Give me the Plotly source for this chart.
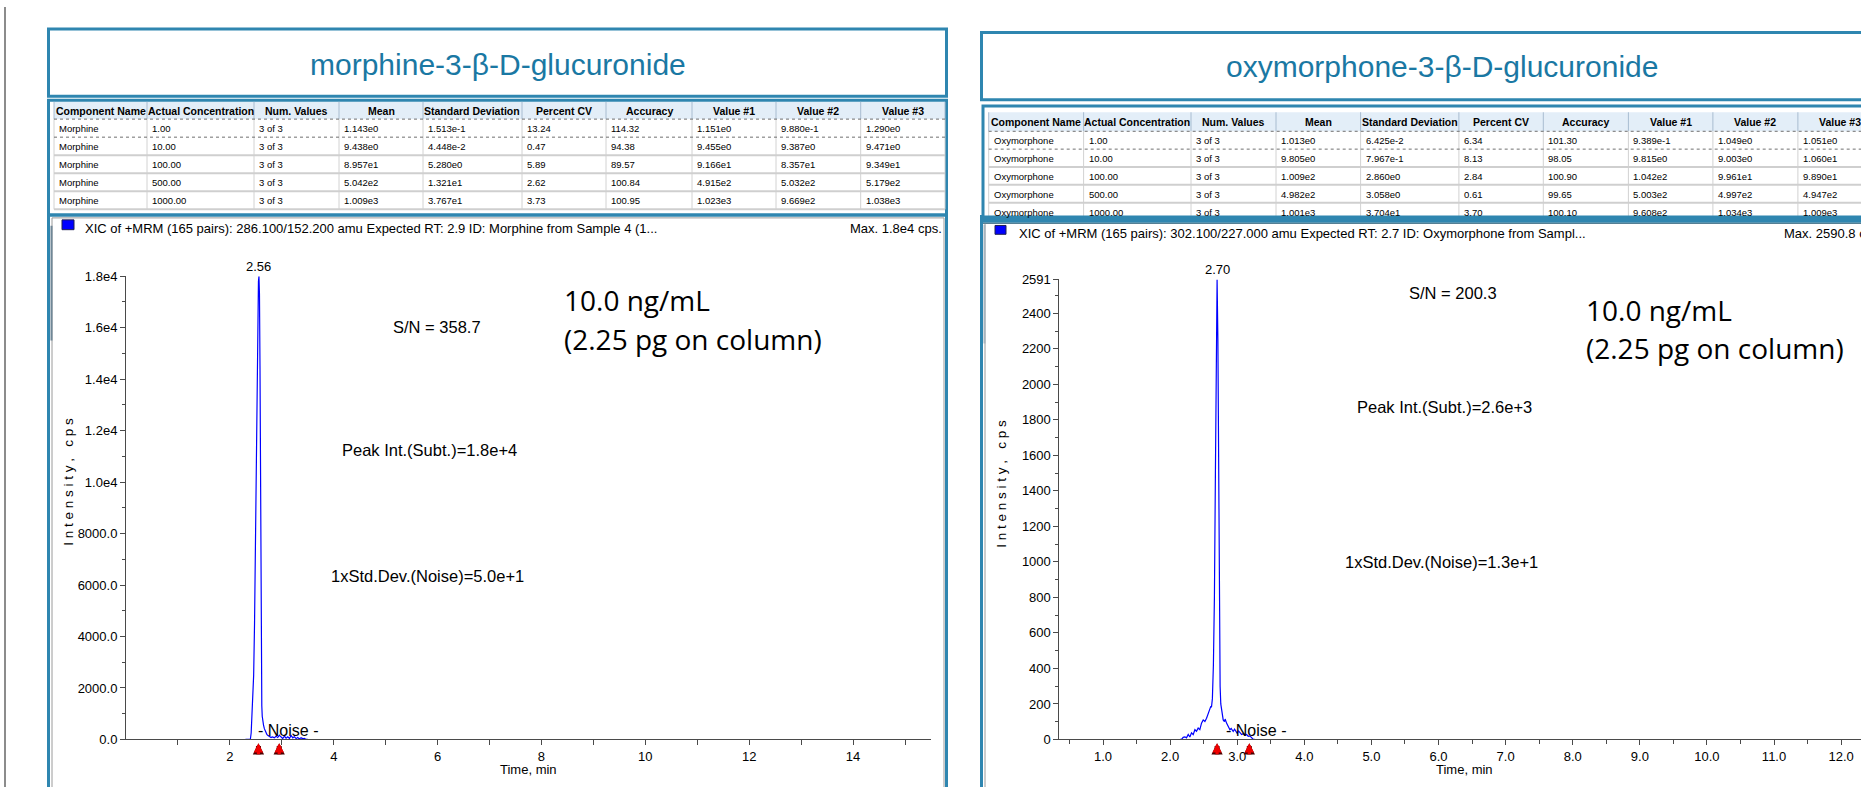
import plotly.graph_objects as go

# ---------------- data ----------------
table_headers = ["Component Name", "Actual Concentration", "Num. Values", "Mean",
                 "Standard Deviation", "Percent CV", "Accuracy", "Value #1", "Value #2", "Value #3"]

morphine_title = "morphine-3-β-D-glucuronide"
morphine_component = ["Morphine"] * 5
morphine_actual_conc = ["1.00", "10.00", "100.00", "500.00", "1000.00"]
morphine_num_values = ["3 of 3"] * 5
morphine_mean = ["1.143e0", "9.438e0", "8.957e1", "5.042e2", "1.009e3"]
morphine_sd = ["1.513e-1", "4.448e-2", "5.280e0", "1.321e1", "3.767e1"]
morphine_cv = ["13.24", "0.47", "5.89", "2.62", "3.73"]
morphine_accuracy = ["114.32", "94.38", "89.57", "100.84", "100.95"]
morphine_value1 = ["1.151e0", "9.455e0", "9.166e1", "4.915e2", "1.023e3"]
morphine_value2 = ["9.880e-1", "9.387e0", "8.357e1", "5.032e2", "9.669e2"]
morphine_value3 = ["1.290e0", "9.471e0", "9.349e1", "5.179e2", "1.038e3"]

oxy_title = "oxymorphone-3-β-D-glucuronide"
oxy_component = ["Oxymorphone"] * 5
oxy_actual_conc = ["1.00", "10.00", "100.00", "500.00", "1000.00"]
oxy_num_values = ["3 of 3"] * 5
oxy_mean = ["1.013e0", "9.805e0", "1.009e2", "4.982e2", "1.001e3"]
oxy_sd = ["6.425e-2", "7.967e-1", "2.860e0", "3.058e0", "3.704e1"]
oxy_cv = ["6.34", "8.13", "2.84", "0.61", "3.70"]
oxy_accuracy = ["101.30", "98.05", "100.90", "99.65", "100.10"]
oxy_value1 = ["9.389e-1", "9.815e0", "1.042e2", "5.003e2", "9.608e2"]
oxy_value2 = ["1.049e0", "9.003e0", "9.961e1", "4.997e2", "1.034e3"]
oxy_value3 = ["1.051e0", "1.060e1", "9.890e1", "4.947e2", "1.009e3"]

# chromatogram: morphine XIC 286.1/152.2
morphine_time = [2.30, 2.394, 2.41, 2.425, 2.44, 2.458, 2.475, 2.49, 2.505, 2.52, 2.535, 2.55,
                 2.56, 2.57, 2.58, 2.59, 2.598, 2.606, 2.615, 2.623, 2.632, 2.648, 2.664, 2.68,
                 2.696, 2.712, 2.728, 2.745, 2.761, 2.777, 2.793, 2.809, 2.825, 2.841, 2.857,
                 2.873, 2.889, 2.905, 2.921, 2.937, 2.954, 2.970, 2.986, 3.002, 3.018, 3.034,
                 3.050, 3.066, 3.082, 3.098, 3.115, 3.131, 3.147, 3.163, 3.179, 3.195, 3.211,
                 3.227, 3.243, 3.259, 3.275, 3.291, 3.307, 3.323, 3.340, 3.356, 3.372, 3.388,
                 3.404, 3.420, 3.436, 3.452, 3.468, 3.50]
morphine_intensity = [0, 0, 250, 800, 1500, 2500, 4500, 7500, 11000, 14200, 16600, 17800,
                      18000, 17300, 14500, 9800, 5500, 2500, 1300, 900, 737, 560, 420, 320,
                      254, 200, 165, 140, 127, 95, 76, 90, 102, 80, 64,
                      95, 127, 100, 76, 120, 165, 130, 102, 70, 38, 85,
                      127, 90, 51, 75, 102, 70, 38, 95, 153, 110, 64,
                      85, 102, 70, 38, 55, 76, 50, 25, 45, 64, 40,
                      25, 30, 38, 20, 0, 0]

# chromatogram: oxymorphone XIC 302.1/227.0
oxy_time = [2.15, 2.17, 2.195, 2.22, 2.244, 2.27, 2.294, 2.319, 2.344, 2.369, 2.393, 2.418,
            2.443, 2.468, 2.493, 2.518, 2.543, 2.567, 2.592, 2.605, 2.617, 2.63, 2.645, 2.66,
            2.675, 2.688, 2.70, 2.712, 2.724, 2.735, 2.745, 2.755, 2.766, 2.78, 2.791, 2.81,
            2.82, 2.841, 2.86, 2.87, 2.891, 2.91, 2.94, 2.96, 2.98, 3.0, 3.02, 3.04, 3.065,
            3.09, 3.115, 3.14, 3.164, 3.19, 3.214, 3.239, 3.26]
oxy_intensity = [0, 0, 12, 15, 9, 28, 14, 37, 27, 55, 46, 64,
                 55, 92, 110, 101, 120, 147, 178, 185, 184, 230, 420, 800,
                 1500, 2200, 2591, 2250, 1400, 650, 300, 200, 170, 125, 110, 100,
                 115, 92, 80, 70, 55, 62, 45, 58, 42, 35, 48, 38, 28,
                 33, 25, 28, 18, 20, 9, 0, 0]

morphine_peak_rt = [2.56]
morphine_peak_max = [18000]
oxy_peak_rt = [2.70]
oxy_peak_max = [2591]
morphine_arrow_times = [2.55, 2.95]
oxy_arrow_times = [2.70, 3.18]
morphine_threshold = [905]
oxy_threshold = [125]

morphine_x_ticks = list(range(1, 16))
morphine_x_labels = ["" if t % 2 else str(t) for t in morphine_x_ticks]
morphine_y_ticks = [0, 2000, 4000, 6000, 8000, 10000, 12000, 14000, 16000, 18000]
morphine_y_labels = ["0.0", "2000.0", "4000.0", "6000.0", "8000.0", "1.0e4", "1.2e4", "1.4e4", "1.6e4", "1.8e4"]
oxy_x_ticks = list(range(1, 13))
oxy_x_labels = [f"{t}.0" for t in oxy_x_ticks]
oxy_y_ticks = [0, 200, 400, 600, 800, 1000, 1200, 1400, 1600, 1800, 2000, 2200, 2400, 2591]
oxy_y_labels = [str(v) for v in oxy_y_ticks]

# ---------------- layout helpers ----------------
W, H = 1861, 787
FONT = "Liberation Sans, Arial, sans-serif"
BIG = "Open Sans, Noto Sans, sans-serif"
TEAL = "#2F86B0"
TITLE_C = "#1A78A3"


def fx(x):
    return x / W


def fy(y):
    return 1 - y / H


shapes = []
annots = []


def line(x0, y0, x1, y1, color, width=1, dash=None, layer="above"):
    d = dict(type="line", xref="paper", yref="paper", x0=fx(x0), y0=fy(y0), x1=fx(x1), y1=fy(y1),
             line=dict(color=color, width=width), layer=layer)
    if dash:
        d["line"]["dash"] = dash
    shapes.append(d)


def box(x0, y0, x1, y1, color=None, width=0, fill=None, layer="above"):
    d = dict(type="rect", xref="paper", yref="paper", x0=fx(x0), y0=fy(y0), x1=fx(x1), y1=fy(y1),
             layer=layer, line=dict(width=width, color=color if color else "rgba(0,0,0,0)"))
    d["fillcolor"] = fill if fill else "rgba(0,0,0,0)"
    shapes.append(d)


def txt(x, y, s, size, color="#000", anchor="center", family=FONT, angle=0):
    annots.append(dict(xref="paper", yref="paper", x=fx(x), y=fy(y), text=s, showarrow=False,
                       xanchor=anchor, yanchor="middle", textangle=angle,
                       font=dict(size=size, color=color, family=family)))


def draw_table(cols, head_top, head_bot, row_h, columns, ext):
    x_start, x_end = cols[0], cols[-1] + ext
    box(x_start, head_top, x_end, head_bot, fill="#E3EEF8", layer="below")
    for i, name in enumerate(table_headers):
        if i + 1 < len(cols):
            txt((cols[i] + cols[i + 1]) / 2, (head_top + head_bot) / 2 + 0.5, "<b>" + name + "</b>", 10.5)
    for c in cols:
        line(c, head_top, c, head_bot, "#A8BCD0", 1)
        line(c, head_bot, c, head_bot + 5 * row_h, "#D2D2D2", 1)
    line(x_start, head_bot, x_end, head_bot, "#707070", 1, "dot")
    for r in range(5):
        top = head_bot + r * row_h
        bot = top + row_h
        if r == 0:
            line(x_start, bot, x_end, bot, "#707070", 1, "dot")
        else:
            line(x_start, bot, x_end, bot, "#CFCFCF", 2)
        for i, col in enumerate(columns):
            txt(cols[i] + 3, top + row_h / 2 + 0.5, col[r], 9.5, anchor="left")


# ---------------- left panel (morphine) ----------------
line(5, 0, 5, 800, "#8C8C8C", 2)
box(48.5, 22.5, 946.5, 91, TEAL, 3)
txt(498, 59, morphine_title, 30, TITLE_C)
box(48.5, 95, 946.5, 212, TEAL, 3)
left_cols = [54, 147, 254, 339, 423, 522, 606, 692, 776, 860.7, 945]
draw_table(left_cols, 96.7, 114.3, 18.4,
           [morphine_component, morphine_actual_conc, morphine_num_values, morphine_mean, morphine_sd,
            morphine_cv, morphine_accuracy, morphine_value1, morphine_value2, morphine_value3], 0)
box(48.5, 212, 946.5, 800, TEAL, 3)
box(52, 215, 944, 800, "#9A9A9A", 1)
line(51.5, 223, 51.5, 340, "#6F8797", 2)
box(62, 217, 74, 227, "#202050", 1, fill="#0000FF")
txt(83, 226, "XIC of +MRM (165 pairs): 286.100/152.200 amu Expected RT: 2.9 ID: Morphine from Sample 4 (1...", 13, anchor="left")
txt(943.5, 226, "Max. 1.8e4 cps.", 13, anchor="right")
txt(69, 484, "\u00a0".join("Intensity,") + "\u00a0\u00a0\u00a0" + "\u00a0".join("cps"), 13.5, angle=-90)
txt(528, 777.7, "Time, min", 13)
txt(436.6, 326.7, "S/N = 358.7", 16.5)
txt(562, 299, "10.0 ng/mL", 28, anchor="left", family=BIG)
txt(562, 338, "(2.25 pg on column)", 28, anchor="left", family=BIG)
txt(429, 451.7, "Peak Int.(Subt.)=1.8e+4", 16.5)
txt(427, 580, "1xStd.Dev.(Noise)=5.0e+1", 16.5)
txt(288.3, 737.3, "- Noise -", 16)

# ---------------- right panel (oxymorphone) ----------------
box(981.5, 26, 1910, 94.5, TEAL, 3)
txt(1442, 61, oxy_title, 30, TITLE_C)
box(983, 101, 1910, 216, TEAL, 3)
right_cols = [988.7, 1083.6, 1191, 1276, 1360.6, 1458.9, 1543.3, 1628.4, 1712.9, 1797.9, 1883]
draw_table(right_cols, 107.3, 126.7, 18.2,
           [oxy_component, oxy_actual_conc, oxy_num_values, oxy_mean, oxy_sd,
            oxy_cv, oxy_accuracy, oxy_value1, oxy_value2, oxy_value3], 40)
box(980, 212.5, 1910, 220, None, 0, fill=TEAL)
line(980, 220.5, 1910, 220.5, "#2A5F7A", 1)
line(981.5, 212, 981.5, 800, TEAL, 3)
line(985, 221, 985, 800, "#9A9A9A", 1)
line(984.5, 222, 984.5, 343, "#A6B4BE", 2)
box(995, 222.7, 1006, 231.7, "#202050", 1, fill="#0000FF")
txt(1016.5, 230.7, "XIC of +MRM (165 pairs): 302.100/227.000 amu Expected RT: 2.7 ID: Oxymorphone from Sampl...", 13, anchor="left")
txt(1782, 230.7, "Max. 2590.8 cps.", 13, anchor="left")
txt(1002, 486, "\u00a0".join("Intensity,") + "\u00a0\u00a0\u00a0" + "\u00a0".join("cps"), 13.5, angle=-90)
txt(1464.6, 777.7, "Time, min", 13)
txt(1452.5, 291.7, "S/N = 200.3", 16.5)
txt(1583.5, 309, "10.0 ng/mL", 28, anchor="left", family=BIG)
txt(1583.5, 347.7, "(2.25 pg on column)", 28, anchor="left", family=BIG)
txt(1444, 408, "Peak Int.(Subt.)=2.6e+3", 16.5)
txt(1441.6, 566, "1xStd.Dev.(Noise)=1.3e+1", 16.5)
txt(1255.8, 737.3, "- Noise -", 16)

# peak labels
for rt, mx, xr, yr in [(morphine_peak_rt[0], morphine_peak_max[0], "x", "y"),
                       (oxy_peak_rt[0], oxy_peak_max[0], "x2", "y2")]:
    annots.append(dict(xref=xr, yref=yr, x=rt, y=mx, text=f"{rt:.2f}", showarrow=False,
                       yanchor="bottom", xanchor="center", yshift=0,
                       font=dict(size=13, family=FONT, color="#000")))

# red peak-integration arrows (dark outline under a red arrow)
for times, xr in [(morphine_arrow_times, "x"), (oxy_arrow_times, "x2")]:
    for t in times:
        for col, wdt, sz in [("#4A0000", 5.0, 0.45), ("#F00000", 3.2, 0.58)]:
            annots.append(dict(xref=xr, yref="paper", x=t, y=fy(750.5), ax=0, ay=12.5, text="",
                               showarrow=True, arrowhead=2, arrowsize=sz, arrowwidth=wdt,
                               arrowcolor=col, standoff=0))

fig = go.Figure()
fig.add_trace(go.Scatter(x=morphine_time, y=morphine_intensity, mode="lines", xaxis="x", yaxis="y",
                         line=dict(color="#0000FF", width=1.2), hoverinfo="skip"))
fig.add_trace(go.Scatter(x=oxy_time, y=oxy_intensity, mode="lines", xaxis="x2", yaxis="y2",
                         line=dict(color="#0000FF", width=1.2), hoverinfo="skip"))
fig.add_trace(go.Scatter(x=[-0.05], y=morphine_threshold, mode="markers", xaxis="x", yaxis="y",
                         marker=dict(symbol="triangle-right", size=10, color="#1028E8",
                                     line=dict(color="#202060", width=1)), cliponaxis=False))
fig.add_trace(go.Scatter(x=[0.31], y=oxy_threshold, mode="markers", xaxis="x2", yaxis="y2",
                         marker=dict(symbol="triangle-right", size=10, color="#1028E8",
                                     line=dict(color="#202060", width=1)), cliponaxis=False))

AX = "#4A4A4A"
tickfont = dict(size=13, family=FONT, color="#000")
common_x = dict(showline=True, linecolor=AX, linewidth=1, ticks="outside", ticklen=5, tickcolor=AX,
                showgrid=False, zeroline=False, tickfont=tickfont, tickmode="array")
common_y = dict(showline=True, linecolor=AX, linewidth=1, ticks="outside", ticklen=5, tickcolor=AX,
                showgrid=False, zeroline=False, tickfont=tickfont, tickmode="array")

fig.update_layout(
    width=W, height=H, autosize=False,
    margin=dict(l=0, r=0, t=0, b=0),
    paper_bgcolor="white", plot_bgcolor="rgba(0,0,0,0)",
    showlegend=False,
    xaxis=dict(domain=[fx(126), fx(931)], range=[0, 15.5], anchor="y",
               tickvals=morphine_x_ticks, ticktext=morphine_x_labels, **common_x),
    yaxis=dict(domain=[fy(746.7), fy(274.5)], range=[0, 18000], anchor="x",
               tickvals=morphine_y_ticks, ticktext=morphine_y_labels,
               minor=dict(tickvals=list(range(1000, 18000, 2000)), ticks="outside", ticklen=3, tickcolor=AX),
               **common_y),
    xaxis2=dict(domain=[fx(1059.4), 1.0], range=[0.35, 12.296], anchor="y2",
                tickvals=oxy_x_ticks, ticktext=oxy_x_labels,
                minor=dict(tickvals=[v + 0.5 for v in range(0, 13)], ticks="outside", ticklen=4, tickcolor=AX),
                **common_x),
    yaxis2=dict(domain=[fy(746.7), fy(277.7)], range=[0, 2591], anchor="x2",
                tickvals=oxy_y_ticks, ticktext=oxy_y_labels,
                minor=dict(tickvals=list(range(100, 2591, 200)), ticks="outside", ticklen=3, tickcolor=AX),
                **common_y),
    shapes=shapes,
    annotations=annots,
)

fig.write_html("out.html", config={"displayModeBar": False},
               post_script="document.body.style.margin='0';document.body.style.overflow='hidden';")
